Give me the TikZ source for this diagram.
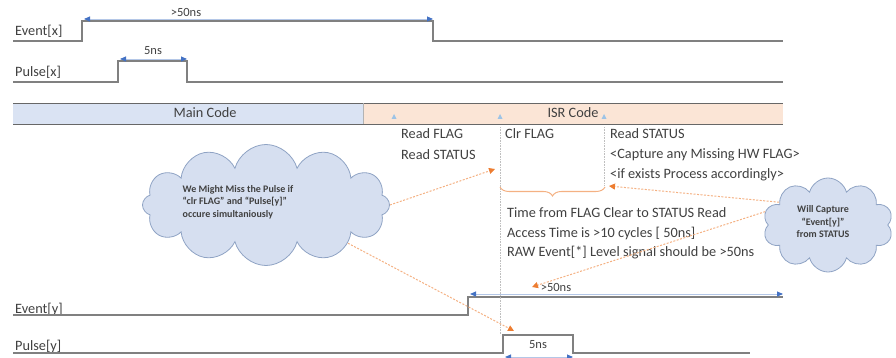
\documentclass[tikz,border=0pt]{standalone}
\usepackage{fontspec}
\setmainfont{Carlito}
\usetikzlibrary{arrows.meta,shapes.symbols,decorations.pathreplacing}
\definecolor{sig}{HTML}{808080}
\definecolor{txt}{HTML}{404040}
\definecolor{dimblue}{HTML}{4472C4}
\definecolor{dimline}{HTML}{B4C7E7}
\definecolor{note}{HTML}{F4B183}
\definecolor{notetip}{HTML}{ED7D31}
\definecolor{mainfill}{HTML}{DAE3F3}
\definecolor{isrfill}{HTML}{FBE5D6}
\definecolor{cloudfill}{HTML}{D6DFF0}
\definecolor{cloudline}{HTML}{8FA3C4}
\definecolor{tick}{HTML}{9DC3E6}
\tikzset{
  wave/.style={sig,line width=1.3pt},
  dim/.style={dimline,line width=0.9pt,
    {Triangle[length=6pt,width=5pt,color=dimblue]}-{Triangle[length=6pt,width=5pt,color=dimblue]}},
  lbl/.style={font=\fontsize{14.3}{17}\selectfont,text=txt,anchor=west,inner sep=0pt},
  dimlbl/.style={font=\fontsize{12.5}{15}\selectfont,text=txt,inner sep=0pt},
  notearrow/.style={note,line width=1pt,dash pattern=on 2pt off 1.5pt,
    -{Triangle[length=6pt,width=6pt,color=notetip]}},
  bubble/.style={cloud,draw=cloudline,fill=cloudfill,line width=0.8pt,inner sep=0pt},
  bubbletxt/.style={font=\fontsize{10}{12.5}\selectfont\bfseries,text=txt,inner sep=0pt}
}
\begin{document}
\begin{tikzpicture}[x=1pt,y=-1pt]
\useasboundingbox (0,0) rectangle (896,358);
% signal names
\node[lbl] (evx) at (15,31) {Event[x]};
\node[lbl] (pux) at (15,72) {Pulse[x]};
\node[lbl] (evy) at (15,309) {Event[y]};
\node[lbl] (puy) at (15,346) {Pulse[y]};
% waveforms
\draw[wave] (13,41) -- (82,41) -- (82,21) -- (433,21) -- (433,41) -- (783,41);
\draw[wave] (13,82) -- (118,82) -- (118,61) -- (187,61) -- (187,82) -- (783,82);
\draw[wave] (13,315) -- (468,315) -- (468,297) -- (783,297);
\draw[wave] (13,353) -- (503,353) -- (503,335) -- (573,335) -- (573,353) -- (750,353);
% widths
\draw[dim] (84,19) -- (433,19);
\path (186,12) node[dimlbl] (wx) {>50ns};
\draw[dim] (120,59) -- (187,59);
\path (153,51) node[dimlbl] (wpx) {5ns};
\draw[dim] (470,294) -- (783,294);
\path (556,287) node[dimlbl] (wy) {>50ns};
\draw[dim] (505,357) -- (573,357);
\path (538,345) node[dimlbl] (wpy) {5ns};
% code bar
\fill[mainfill] (13,103) rectangle (363,124);
\fill[isrfill] (363,103) rectangle (783,124);
\draw[sig!80!black,line width=0.9pt] (13,103) -- (783,103);
\draw[sig!80!black,line width=0.9pt] (13,124) -- (783,124);
\draw[sig!60,line width=0.5pt] (363,103) -- (363,124);
\path (205,113) node[lbl,anchor=center] (main) {Main Code};
\path (573,113) node[lbl,anchor=center] (isr) {ISR Code};
\foreach \x in {394,500,604}
	\fill[tick] (\x-2.5,119) -- (\x+2.5,119) -- (\x,114) -- cycle;
% steps of the ISR
\draw[gray!50,densely dotted,line width=0.6pt] (500,127) -- (500,335);
\draw[gray!50,densely dotted,line width=0.6pt] (604,127) -- (604,186);
\foreach \y/\t in {134/Read FLAG,155/Read STATUS}
	\node[lbl] (rd\y) at (401,\y) {\t};
\node[lbl] (clr) at (505,134) {Clr FLAG};
\node[lbl] (st1) at (610,134) {Read STATUS};
\node[lbl] (st2) at (610,155) {<Capture any Missing HW FLAG>};
\node[lbl] (st3) at (610,175) {<if exists Process accordingly>};
\draw[note,line width=1pt,decorate,decoration={brace,amplitude=9pt,mirror}] (500,187) -- (605,187);
\node[lbl] (t1) at (507,213) {Time from FLAG Clear to STATUS Read};
\node[lbl] (t2) at (507,233) {Access Time is >10 cycles [ 50ns]};
\node[lbl] (t3) at (507,253) {RAW Event[*] Level signal should be >50ns};
% notes
\node[bubble,cloud puffs=12,aspect=2,minimum width=247pt,minimum height=121pt] (c1) at (266,205) {};
\node[bubbletxt,align=left] (c1t) at (238,202) {We Might Miss the Pulse if\\``clr FLAG'' and ``Pulse[y]''\\occure simultaniously};
\node[bubble,cloud puffs=10,aspect=1.4,minimum width=130pt,minimum height=94pt] (c2) at (828,225) {};
\node[bubbletxt,align=center] (c2t) at (823,222) {Will Capture\\``Event[y]''\\from STATUS};
\coordinate (clrpt) at (495,169);
\coordinate (pypt) at (514,331);
\coordinate (ifpt) at (609,186);
\coordinate (eypt) at (532,287);
\draw[notearrow] (c1.0) -- (clrpt);
\draw[notearrow] (c1.-25) -- (pypt);
\draw[notearrow] (c2.155) -- (ifpt);
\draw[notearrow] (c2.168) -- (eypt);
\end{tikzpicture}
\end{document}
